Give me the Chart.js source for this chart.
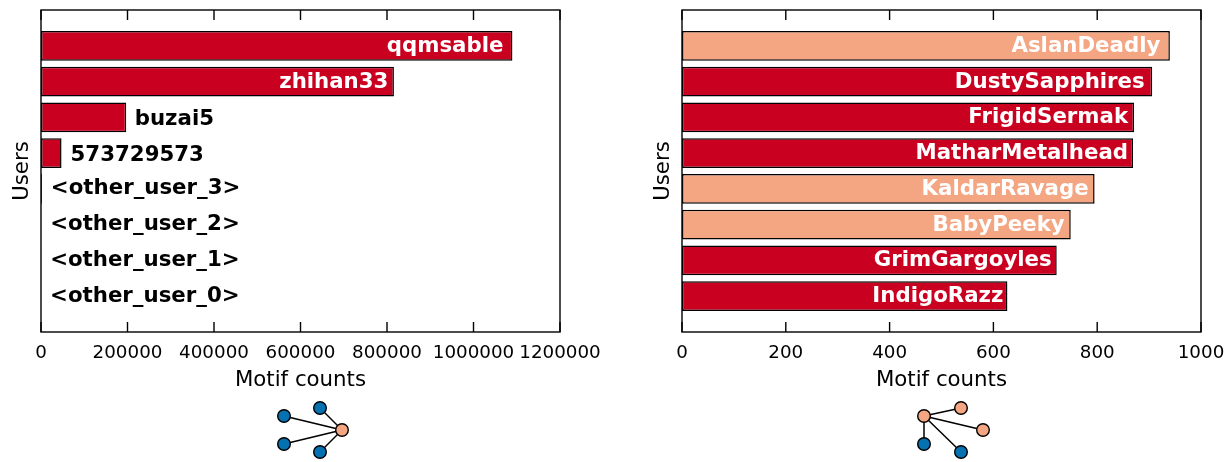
<!DOCTYPE html>
<html>
<head>
<meta charset="utf-8">
<style>
  html, body { margin: 0; padding: 0; background: #fff; }
  body { width: 1232px; height: 462px; position: relative; overflow: hidden; }
  canvas { position: absolute; }
</style>
<script src="https://cdn.jsdelivr.net/npm/chart.js@4/dist/chart.umd.min.js"></script>
</head>
<body>
<canvas id="leftChart" width="616" height="400" style="left:0;top:0"></canvas>
<canvas id="rightChart" width="591" height="400" style="left:641px;top:0"></canvas>
<canvas id="leftMotif" width="100" height="67" style="left:263px;top:395px"></canvas>
<canvas id="rightMotif" width="100" height="67" style="left:904px;top:395px"></canvas>
<script>
const RED = "#ca0020";
const ORANGE = "#f4a582";
const BLUE = "#0571b0";

const leftUsers = ["qqmsable", "zhihan33", "buzai5", "573729573", "<other_user_3>", "<other_user_2>", "<other_user_1>", "<other_user_0>"];
const leftCounts = [1090000, 816000, 197000, 47500, 2000, 500, 300, 200];
const leftColors = [RED, RED, RED, RED, RED, RED, RED, RED];
const leftTicks = [0, 200000, 400000, 600000, 800000, 1000000, 1200000];

const rightUsers = ["AslanDeadly", "DustySapphires", "FrigidSermak", "MatharMetalhead", "KaldarRavage", "BabyPeeky", "GrimGargoyles", "IndigoRazz"];
const rightCounts = [940, 906, 871, 869, 795, 749, 722, 627];
const rightColors = [ORANGE, RED, RED, RED, ORANGE, ORANGE, RED, RED];
const rightTicks = [0, 200, 400, 600, 800, 1000];

// motif graphs: node 0 is the hub, the rest connect to it
const leftMotifX = [79, 21, 57, 21, 57];
const leftMotifY = [35, 21, 13, 49, 57];
const leftMotifColors = [ORANGE, BLUE, BLUE, BLUE, BLUE];
const rightMotifX = [20, 57, 79, 20, 57];
const rightMotifY = [21, 13, 35, 49, 57];
const rightMotifColors = [ORANGE, ORANGE, ORANGE, BLUE, BLUE];

const FONT = "'DejaVu Sans', sans-serif";

// frame, inward ticks and the user names on the bars
const framePlugin = {
  id: "frame",
  afterDatasetsDraw(chart, args, opts) {
    const ctx = chart.ctx;
    const area = chart.chartArea;
    const xs = chart.scales.x;
    const ys = chart.scales.y;

    ctx.save();
    ctx.font = "bold 21.3px " + FONT;
    ctx.textBaseline = "middle";
    opts.users.forEach((name, i) => {
      const end = xs.getPixelForValue(opts.counts[i]);
      const inside = opts.counts[i] > xs.max / 2;
      ctx.textAlign = inside ? "right" : "left";
      ctx.fillStyle = inside ? "#fff" : "#000";
      const gap = opts.insets[i];
      ctx.fillText(name, inside ? end - gap : end + gap, ys.getPixelForValue(i) + opts.nudges[i]);
    });

    ctx.strokeStyle = "#000";
    ctx.lineWidth = 1.4;
    ctx.strokeRect(area.left, area.top, area.right - area.left, area.bottom - area.top);
    ctx.beginPath();
    xs.ticks.forEach(t => {
      const px = xs.getPixelForValue(t.value);
      ctx.moveTo(px, area.top);
      ctx.lineTo(px, area.top + 10);
      ctx.moveTo(px, area.bottom);
      ctx.lineTo(px, area.bottom - 10);
    });
    ctx.stroke();
    ctx.restore();
  }
};

function makeBarChart(id, users, counts, colors, ticks, rightPad, insets, nudges) {
  const maxTick = ticks[ticks.length - 1];
  return new Chart(document.getElementById(id), {
    type: "bar",
    data: {
      datasets: [{
        data: users.map((u, i) => ({ x: counts[i], y: i })),
        backgroundColor: colors,
        borderColor: "#000",
        borderWidth: 1.5,
        borderSkipped: false,
        barPercentage: 0.83,
        categoryPercentage: 1
      }]
    },
    options: {
      indexAxis: "y",
      responsive: false,
      animation: false,
      layout: { padding: { top: 10, right: rightPad, left: 0, bottom: 0 } },
      plugins: {
        legend: { display: false },
        tooltip: { enabled: false },
        frame: { users: users, counts: counts, insets: insets, nudges: nudges }
      },
      scales: {
        x: {
          type: "linear",
          min: 0,
          max: maxTick,
          afterBuildTicks: scale => { scale.ticks = ticks.map(v => ({ value: v })); },
          afterFit: scale => { scale.height = 68; },
          grid: { display: false },
          border: { display: false },
          ticks: {
            color: "#000",
            font: { family: FONT, size: 18.3 },
            maxRotation: 0,
            autoSkip: false,
            padding: 2,
            callback: v => String(v)
          },
          title: {
            display: true,
            text: "Motif counts",
            color: "#000",
            font: { family: FONT, size: 21.3 },
            padding: { top: 0, bottom: 7 }
          }
        },
        y: {
          type: "linear",
          reverse: true,
          offset: false,
          min: -1,
          max: 8,
          afterFit: scale => { scale.width = 41; },
          grid: { display: false },
          border: { display: false },
          ticks: { display: false },
          title: {
            display: true,
            text: "Users",
            color: "#000",
            font: { family: FONT, size: 21.3 },
            padding: { top: 10, bottom: 0 }
          }
        }
      }
    },
    plugins: [framePlugin]
  });
}

function makeMotif(id, xs, ys, colors) {
  const edges = xs.slice(1).map((x, i) => ({
    data: [{ x: xs[0], y: ys[0] }, { x: x, y: ys[i + 1] }],
    showLine: true,
    borderColor: "#000",
    borderWidth: 1.5,
    pointRadius: 0,
    order: 2
  }));
  const nodes = {
    data: xs.map((x, i) => ({ x: x, y: ys[i] })),
    showLine: false,
    pointRadius: 6.3,
    pointBackgroundColor: colors,
    pointBorderColor: "#000",
    pointBorderWidth: 1.4,
    order: 1
  };
  return new Chart(document.getElementById(id), {
    type: "scatter",
    data: { datasets: edges.concat([nodes]) },
    options: {
      responsive: false,
      animation: false,
      layout: { autoPadding: false, padding: 0 },
      plugins: { legend: { display: false }, tooltip: { enabled: false } },
      scales: {
        x: { display: false, min: 0, max: 100 },
        y: { display: false, min: 0, max: 67, reverse: true }
      }
    }
  });
}

makeBarChart("leftChart", leftUsers, leftCounts, leftColors, leftTicks, 56,
  [9, 5.5, 8.5, 9, 9, 9, 9, 9], [1, 1, 2, 2, 0, 0, 0, 0]);
makeBarChart("rightChart", rightUsers, rightCounts, rightColors, rightTicks, 31,
  [9.5, 7.5, 6, 5, 6, 6, 5, 4], [0.5, 0.5, 0.5, 0.5, 0.5, 0.5, 0.5, 0.5]);
makeMotif("leftMotif", leftMotifX, leftMotifY, leftMotifColors);
makeMotif("rightMotif", rightMotifX, rightMotifY, rightMotifColors);
</script>
</body>
</html>
